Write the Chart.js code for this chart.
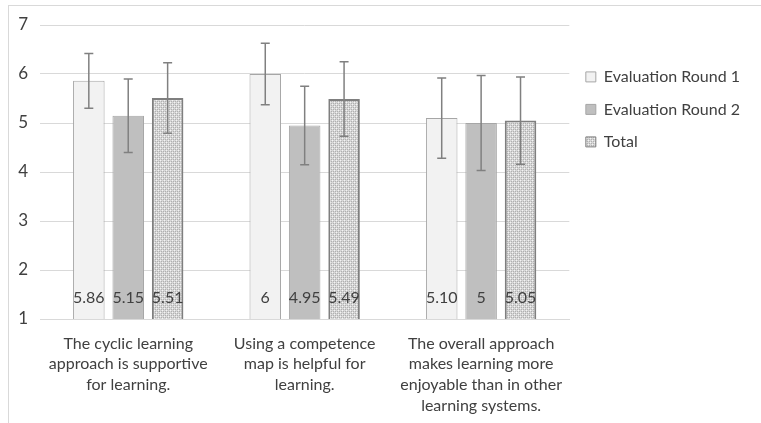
<!DOCTYPE html>
<html>
<head>
<meta charset="utf-8">
<script src="https://cdn.jsdelivr.net/npm/chart.js@4.4.1/dist/chart.umd.min.js"></script>
<style>
  body { margin: 0; background: #fff; overflow: hidden; }
  #frame { position: absolute; left: 8px; top: 5px; width: 800px; height: 500px; border: 1px solid #d9d9d9; }
  #myChart { position: absolute; left: 0; top: 0; }
</style>
</head>
<body>
<div id="frame"></div>
<canvas id="myChart" width="761" height="423"></canvas>
<script>
const categories = [
  ["The cyclic learning", "approach is supportive", "for learning."],
  ["Using a competence", "map is helpful for", "learning."],
  ["The overall approach", "makes learning more", "enjoyable than in other", "learning systems."]
];
const seriesNames = ["Evaluation Round 1", "Evaluation Round 2", "Total"];
const round1 = [5.86, 6, 5.10];
const round2 = [5.15, 4.95, 5];
const total = [5.51, 5.49, 5.05];
const round1Labels = ["5.86", "6", "5.10"];
const round2Labels = ["5.15", "4.95", "5"];
const totalLabels = ["5.51", "5.49", "5.05"];
const round1Err = [0.56, 0.63, 0.82];
const round2Err = [0.75, 0.80, 0.97];
const totalErr = [0.72, 0.76, 0.89];
const yTicks = [1, 2, 3, 4, 5, 6, 7];

const FONT = "Lato, 'Open Sans', sans-serif";

// little dotted pattern for the "Total" bars
const makePattern = () => {
  const pc = document.createElement('canvas');
  pc.width = 4; pc.height = 4;
  const p = pc.getContext('2d');
  p.fillStyle = '#d6d6d6';
  p.fillRect(0, 0, 4, 4);
  p.fillStyle = '#f4f4f4';
  p.fillRect(0, 0, 1, 1);
  p.fillRect(2, 2, 1, 1);
  p.fillStyle = '#b0b0b0';
  p.fillRect(1, 1, 1, 1);
  p.fillRect(3, 3, 1, 1);
  p.fillRect(3, 1, 1, 1);
  p.fillRect(1, 3, 1, 1);
  return p.createPattern(pc, 'repeat');
};
const ctx = document.getElementById('myChart').getContext('2d');
const totalFill = makePattern();

const errors = [round1Err, round2Err, totalErr];
const valueLabels = [round1Labels, round2Labels, totalLabels];

const barExtras = {
  id: 'barExtras',
  afterDatasetsDraw(chart) {
    const c = chart.ctx;
    const y = chart.scales.y;
    chart.data.datasets.forEach((ds, i) => {
      const meta = chart.getDatasetMeta(i);
      meta.data.forEach((bar, j) => {
        // error bars
        const v = ds.data[j];
        const e = errors[i][j];
        const top = y.getPixelForValue(v + e);
        const bot = y.getPixelForValue(v - e);
        c.save();
        c.strokeStyle = '#808080';
        c.lineWidth = 1.5;
        c.beginPath();
        c.moveTo(bar.x, top); c.lineTo(bar.x, bot);
        c.moveTo(bar.x - 4.5, top); c.lineTo(bar.x + 4.5, top);
        c.moveTo(bar.x - 4.5, bot); c.lineTo(bar.x + 4.5, bot);
        c.stroke();
        // value labels at the foot of each bar
        c.fillStyle = '#404040';
        c.font = '16px ' + FONT;
        c.textAlign = 'center';
        c.textBaseline = 'middle';
        c.fillText(valueLabels[i][j], bar.x, y.getPixelForValue(1) - 21);
        c.restore();
      });
    });
  }
};

const chart = new Chart(ctx, {
  type: 'bar',
  data: {
    labels: categories,
    datasets: [{
      label: seriesNames[0],
      data: round1,
      backgroundColor: '#f2f2f2',
      borderColor: '#a6a6a6',
      borderWidth: 1
    }, {
      label: seriesNames[1],
      data: round2,
      backgroundColor: '#bfbfbf',
      borderColor: '#a6a6a6',
      borderWidth: 1
    }, {
      label: seriesNames[2],
      data: total,
      backgroundColor: totalFill,
      borderColor: '#7f7f7f',
      borderWidth: 2
    }]
  },
  options: {
    responsive: false,
    animation: false,
    layout: { padding: { top: 25, right: 11, left: 0, bottom: 0 } },
    datasets: {
      bar: { categoryPercentage: 0.67, barPercentage: 0.8, borderSkipped: false }
    },
    scales: {
      x: {
        grid: { display: false },
        border: { display: true, color: '#d9d9d9' },
        ticks: {
          color: '#404040',
          font: { family: FONT, size: 16, lineHeight: 1.3 },
          padding: 6,
          maxRotation: 0,
          autoSkip: false
        },
        afterFit: (s) => { s.height = 104; }
      },
      y: {
        min: 1,
        max: 7,
        afterBuildTicks: (s) => { s.ticks = yTicks.map(v => ({ value: v })); },
        grid: { color: '#d9d9d9', drawTicks: false },
        border: { display: false },
        ticks: {
          color: '#404040',
          font: { family: FONT, size: 17 },
          padding: 12
        },
        afterFit: (s) => { s.width = 40; }
      }
    },
    plugins: {
      tooltip: { enabled: false },
      legend: {
        position: 'right',
        align: 'start',
        title: { display: true, text: '', padding: 6.5 },
        labels: {
          color: '#404040',
          font: { family: FONT, size: 16 },
          boxWidth: 10,
          boxHeight: 10,
          padding: 16.5,
          generateLabels: (chart) => chart.data.datasets.map((ds, i) => ({
            text: ds.label,
            fillStyle: ds.backgroundColor,
            strokeStyle: ds.borderColor,
            lineWidth: 1,
            fontColor: '#404040',
            datasetIndex: i
          }))
        }
      }
    }
  },
  plugins: [barExtras]
});
</script>
</body>
</html>
